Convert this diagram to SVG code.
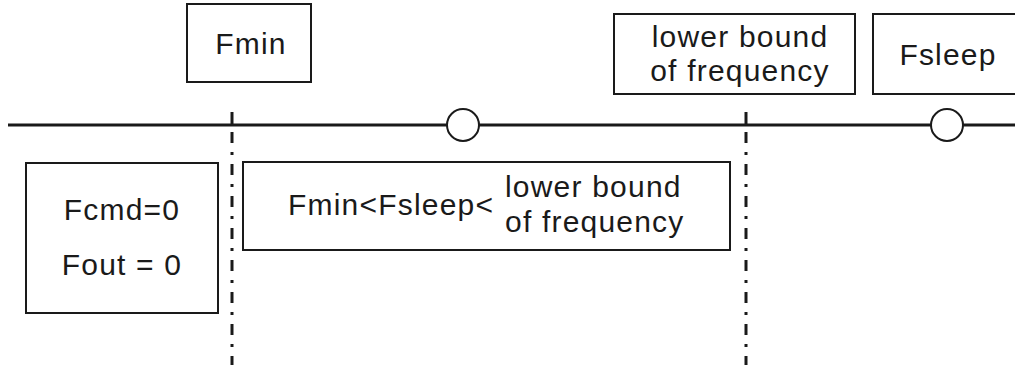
<svg xmlns="http://www.w3.org/2000/svg" width="1015" height="365" viewBox="0 0 1015 365">
<style>
.box{fill:#fff;stroke:#1a1a1a;stroke-width:2}
.t{font-family:"Liberation Sans",Arial,sans-serif;font-size:30px;letter-spacing:1.2px;fill:#1a1a1a}
.m{text-anchor:middle}
.axis{stroke:#1a1a1a;stroke-width:3;fill:none}
.dd{stroke:#1a1a1a;stroke-width:3;stroke-dasharray:11 9 3 9;fill:none}
.c{fill:#fff;stroke:#1a1a1a;stroke-width:2}
</style>
<rect width="1015" height="365" fill="#fff"/>
<g id="connectors">
<line class="axis" x1="8" y1="125" x2="1015" y2="125"/>
<line class="axis" x1="232" y1="112" x2="232" y2="125"/>
<line class="axis" x1="746" y1="112" x2="746" y2="125"/>
<line class="dd" x1="232" y1="132" x2="232" y2="365"/>
<line class="dd" x1="746" y1="132" x2="746" y2="365"/>
<circle class="c" cx="463" cy="125" r="16"/>
<circle class="c" cx="947" cy="125" r="16"/>
</g>
<g id="fmin">
<rect class="box" x="187" y="4" width="124" height="78"/>
<text class="t m" x="251" y="54">Fmin</text>
</g>
<g id="lowerbound">
<rect class="box" x="614" y="14" width="241" height="80"/>
<text class="t m" x="740" y="47">lower bound</text>
<text class="t m" x="740" y="81">of frequency</text>
</g>
<g id="fsleep">
<rect class="box" x="873" y="14" width="160" height="80"/>
<text class="t m" x="948" y="65">Fsleep</text>
</g>
<g id="stopped">
<rect class="box" x="26" y="163" width="192" height="150"/>
<text class="t m" x="122" y="220">Fcmd=0</text>
<text class="t m" x="122" y="275">Fout = 0</text>
</g>
<g id="range">
<rect class="box" x="243" y="162" width="487" height="88"/>
<text class="t" x="288" y="215">Fmin&lt;Fsleep&lt;</text>
<text class="t" x="505" y="197">lower bound</text>
<text class="t" x="505" y="232">of frequency</text>
</g>
</svg>
